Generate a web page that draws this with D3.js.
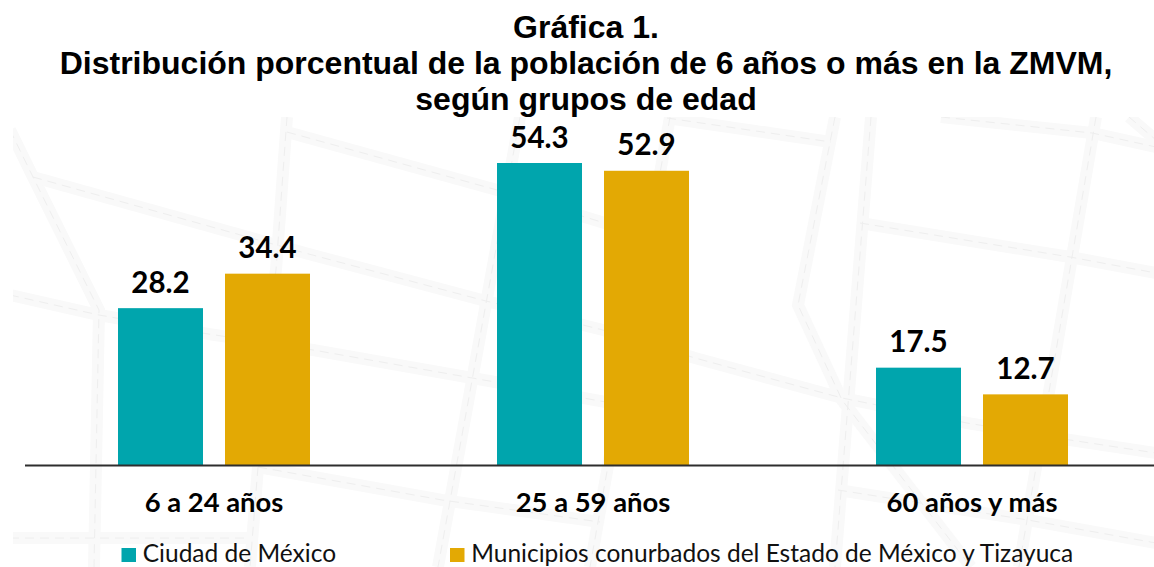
<!DOCTYPE html>
<html><head><meta charset="utf-8">
<script src="https://cdn.jsdelivr.net/npm/d3@7"></script>
<style>html,body{margin:0;padding:0;background:#fff;overflow:hidden}svg{display:block}</style>
</head><body><div id="chart"></div>
<script>
const titleLines = ["Gráfica 1.", "Distribución porcentual de la población de 6 años o más en la ZMVM,", "según grupos de edad"];
const categories = ["6 a 24 años", "25 a 59 años", "60 años y más"];
const seriesNames = ["Ciudad de México", "Municipios conurbados del Estado de México y Tizayuca"];
const ciudadValues = [28.2, 54.3, 17.5];
const municipiosValues = [34.4, 52.9, 12.7];
const seriesColors = ["#00a5ad", "#e3a904"];
// decorative street map behind the chart
const streets = [
 [[10,130],[33,177],[99,310],[94,567]],
 [[33,177],[305,253],[482,300],[603,330],[695,358],[842,398],[967,423],[1070,440],[1156,453]],
 [[10,295],[99,315],[202,333],[313,350],[495,382],[650,410]],
 [[287,132],[497,190],[660,240]],
 [[287,117],[276,270],[270,310]],
 [[520,117],[438,567]],
 [[670,117],[590,567]],
 [[667,118],[831,142]],
 [[835,117],[798,305],[842,400],[971,567]],
 [[871,117],[835,567]],
 [[860,223],[1070,257],[1156,273]],
 [[1096,117],[1019,567]],
 [[941,117],[1092,133],[1156,147]],
 [[1129,117],[1156,140]],
 [[258,467],[442,500],[600,522]],
 [[258,467],[250,567]],
 [[10,538],[250,538]],
 [[838,490],[1028,520],[1156,543]]
];

const W = 1154, H = 567;
const svg = d3.select("#chart").append("svg").attr("width", W).attr("height", H);
const x = d3.scaleBand().domain(categories).range([24.5, 1161.5]);
const bx = d3.scaleBand().domain(seriesNames).range([118, 310]).paddingInner(22/107);
const groupOffset = c => x(c) + x.bandwidth()/2 - 214;
const y = d3.scaleLinear().domain([0, 54.3]).range([465, 163]);

svg.append("defs").append("clipPath").attr("id","bg").append("rect")
  .attr("x",13).attr("y",117).attr("width",W).attr("height",H);
const bg = svg.append("g").attr("clip-path","url(#bg)");
const line = d3.line();
bg.selectAll("path.band").data(streets).join("path").attr("class","band")
  .attr("d",line).attr("fill","none").attr("stroke","#f9f9f9").attr("stroke-width",12);
bg.selectAll("path.dash").data(streets).join("path").attr("class","dash")
  .attr("d",line).attr("fill","none").attr("stroke","#eeeeee").attr("stroke-width",1).attr("stroke-dasharray","9 6");

const title = svg.append("g");
title.selectAll("text").data(titleLines).join("text")
  .attr("x",586).attr("y",(d,i)=>38+i*36).attr("text-anchor","middle")
  .attr("font-family","'Liberation Sans',Arial,sans-serif").attr("font-weight",700).attr("font-size",32).attr("fill","#000")
  .text(d=>d);

const rows = [ciudadValues, municipiosValues];
rows.forEach((vals,s)=>{
  const name = seriesNames[s];
  svg.append("g").selectAll("rect").data(vals).join("rect")
    .attr("x",(d,i)=>bx(name)+groupOffset(categories[i]))
    .attr("y",d=>y(d)).attr("width",bx.bandwidth()).attr("height",d=>y(0)-y(d))
    .attr("fill",seriesColors[s]);
  svg.append("g").selectAll("text").data(vals).join("text")
    .attr("x",(d,i)=>bx(name)+bx.bandwidth()/2+groupOffset(categories[i]))
    .attr("y",d=>y(d)-15.5).attr("text-anchor","middle")
    .attr("font-family","Lato,sans-serif").attr("font-weight",700).attr("font-size",29.5).attr("fill","#000")
    .text(d=>d.toFixed(1));
});

const axis = svg.append("g").attr("transform","translate(0,465)")
  .call(d3.axisBottom(x).tickSize(0).tickPadding(0));
axis.select(".domain").attr("stroke","#2e2e2e").attr("stroke-width",2);
axis.selectAll("text").attr("y",47).attr("dy",0)
  .attr("font-family","Lato,sans-serif").attr("font-weight",700).attr("font-size",27.4).attr("fill","#000");

const legendX = [121.5, 450];
const leg = svg.append("g");
seriesNames.forEach((n,i)=>{
  leg.append("rect").attr("x",legendX[i]).attr("y",548).attr("width",14.5).attr("height",14).attr("fill",seriesColors[i]);
  leg.append("text").attr("x",legendX[i]+21.25).attr("y",562).attr("font-family","Lato,sans-serif")
    .attr("font-size",24.5).attr("fill","#111").text(n);
});
</script></body></html>
